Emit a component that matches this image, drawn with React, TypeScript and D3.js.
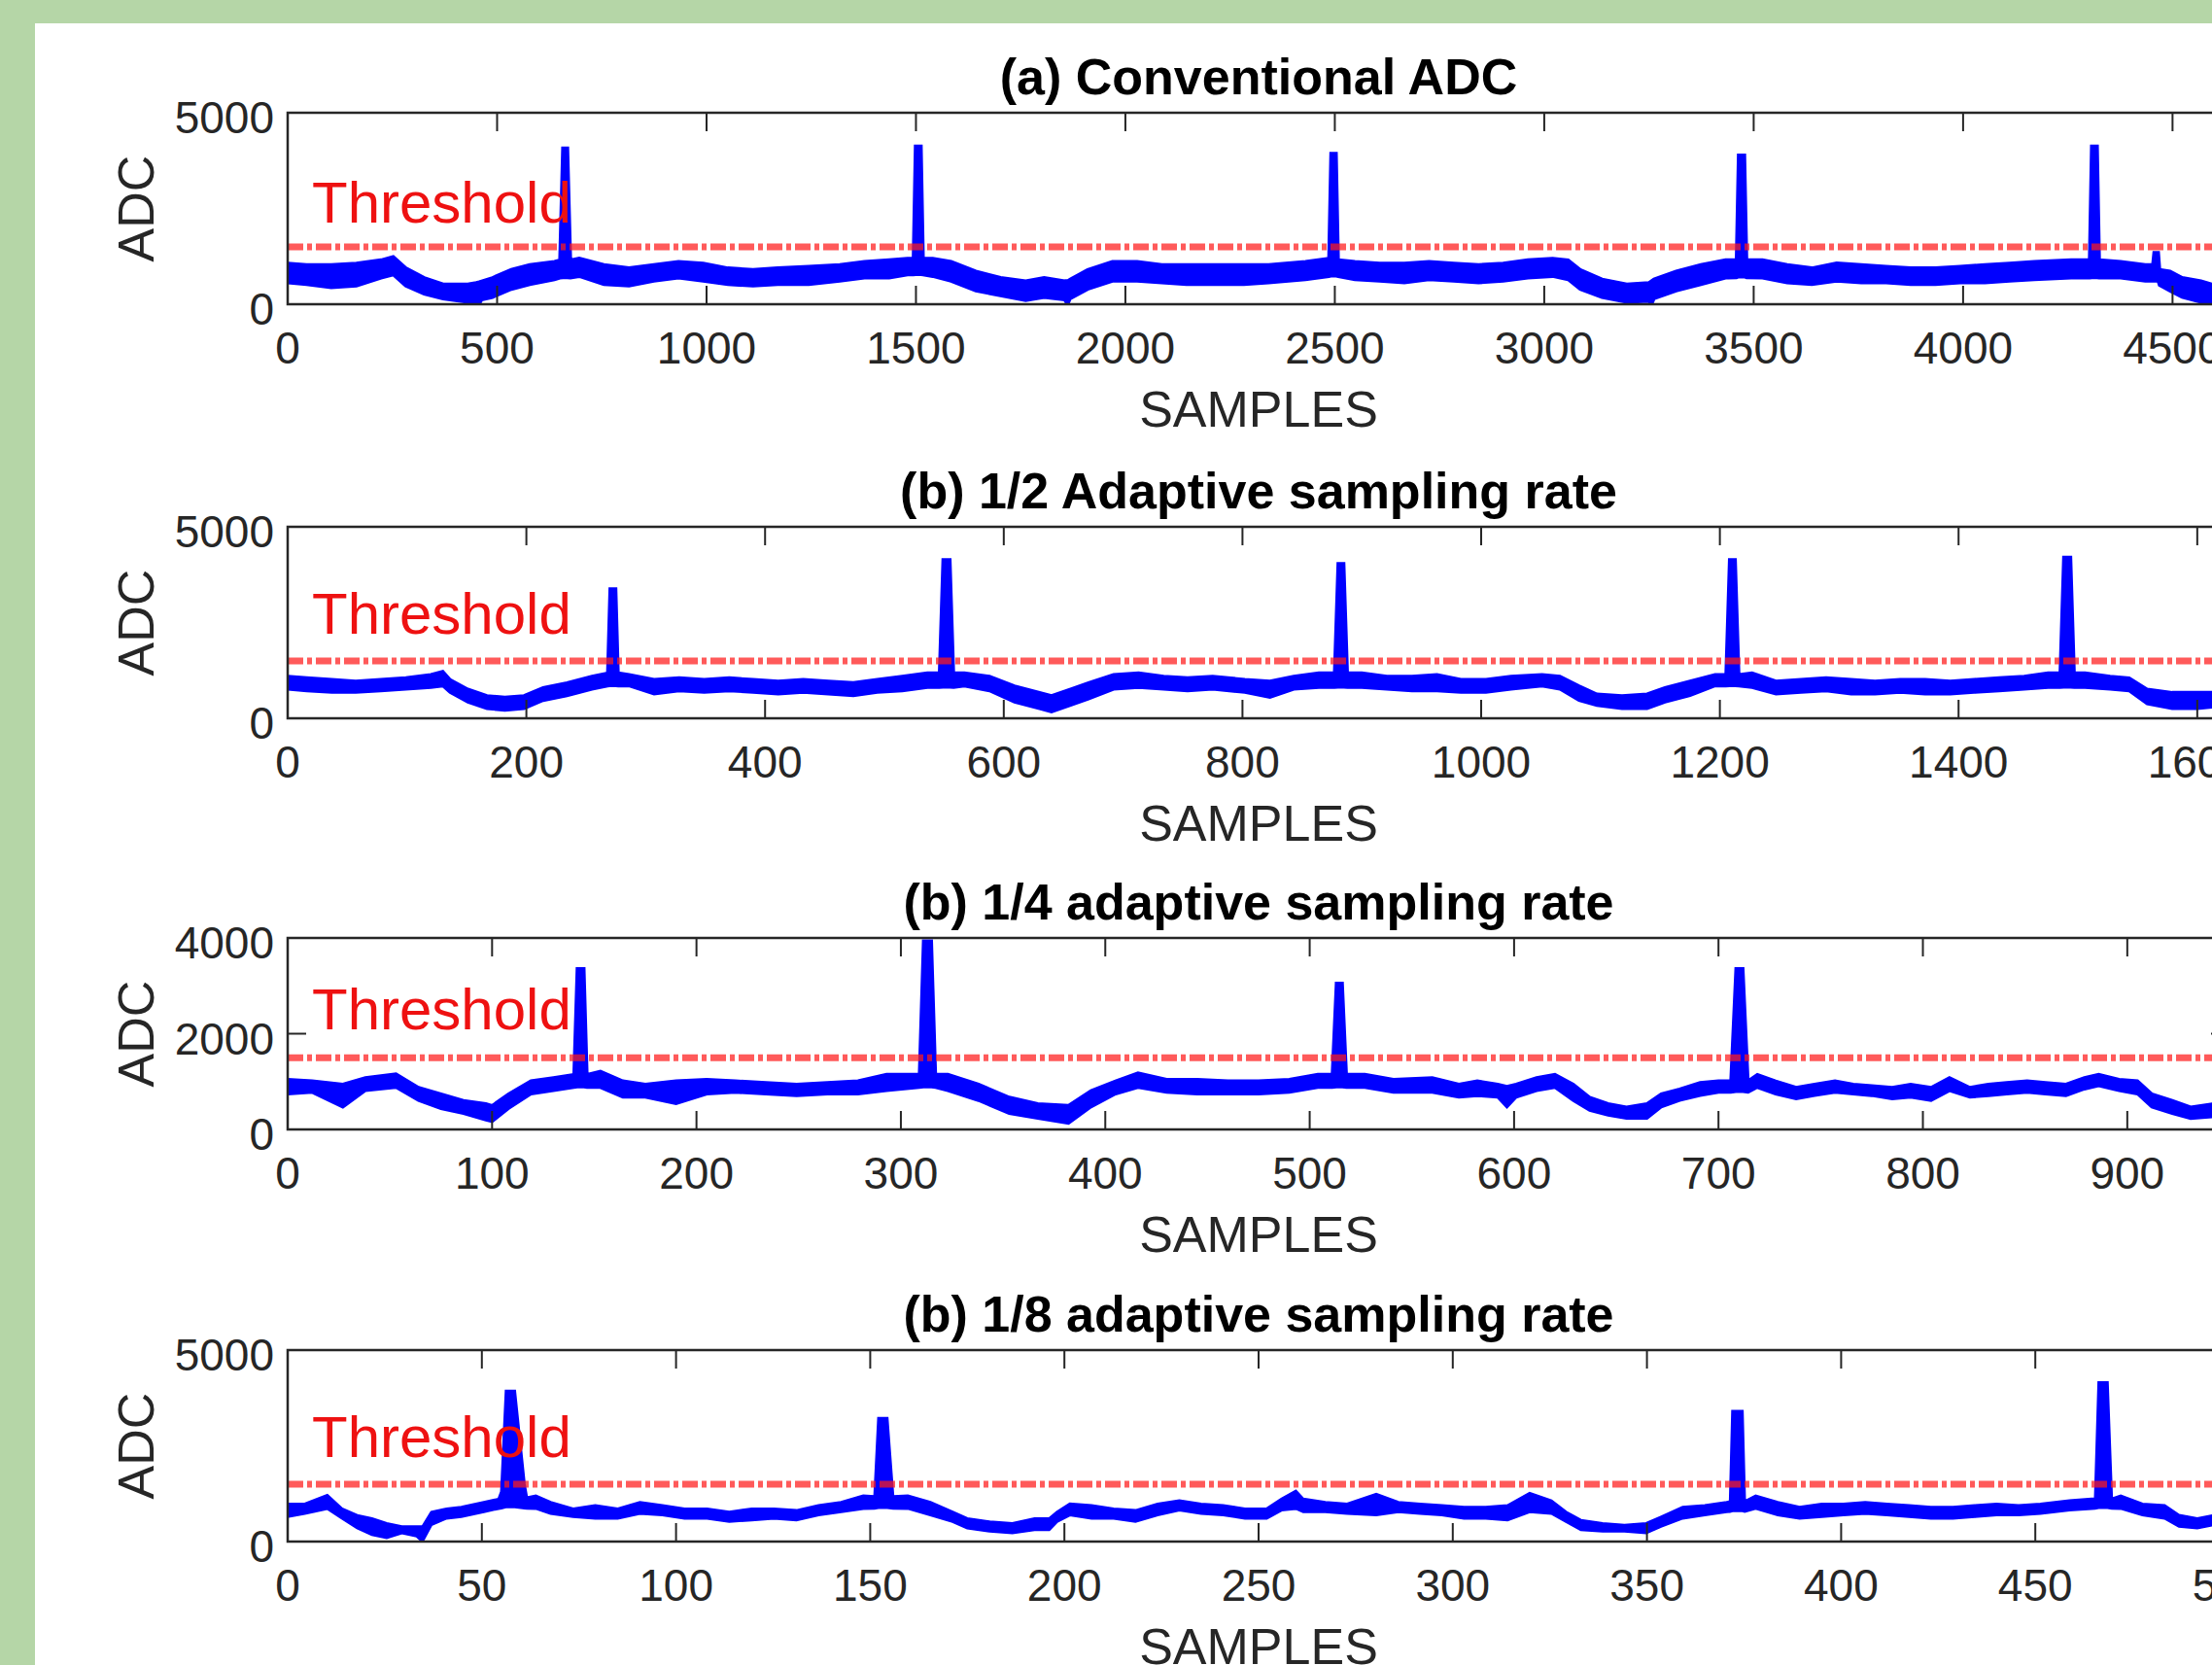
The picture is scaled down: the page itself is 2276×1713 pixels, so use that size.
import React from 'react';
import * as d3 from 'd3';

// Each row: [sample index, lower edge of the plotted trace, upper edge of the plotted trace] (ADC counts)
type Row = [number, number, number];

const conventionalTrace: Row[] = [
  [0, 564, 1069], [45, 522, 1027], [104, 438, 1027], [164, 480, 1069], [223, 690, 1153], [252, 774, 1237],
  [282, 480, 943], [326, 269, 690], [371, 143, 522], [430, 59, 522], [450, 60, 560], [457, 0, 580], [463, 120, 600],
  [489, 185, 690], [534, 395, 901], [578, 522, 1027], [637, 648, 1111], [650, 690, 1150], [657, 700, 4074],
  [668, 700, 4074], [675, 690, 1150], [696, 732, 1195], [755, 522, 1027], [815, 480, 943], [874, 606, 1027],
  [933, 690, 1111], [992, 606, 1069], [1051, 522, 943], [1111, 480, 901], [1170, 522, 943], [1244, 522, 985],
  [1318, 606, 1027], [1377, 690, 1111], [1436, 690, 1153], [1480, 774, 1195], [1494, 774, 1195], [1499, 780, 4124],
  [1512, 780, 4124], [1517, 774, 1195], [1540, 732, 1195], [1584, 606, 1111], [1643, 353, 858], [1702, 227, 690],
  [1762, 101, 606], [1806, 185, 690], [1855, 120, 606], [1862, 0, 606], [1868, 150, 650], [1910, 395, 901],
  [1969, 606, 1111], [2028, 606, 1111], [2087, 564, 1027], [2146, 522, 1027], [2205, 522, 1027], [2283, 522, 1027],
  [2342, 564, 1027], [2430, 648, 1111], [2486, 732, 1195], [2491, 740, 3931], [2503, 740, 3931], [2508, 732, 1153],
  [2548, 648, 1111], [2607, 606, 1069], [2666, 564, 1069], [2725, 648, 1111], [2784, 606, 1069], [2843, 564, 1027],
  [2902, 606, 1069], [2961, 690, 1153], [3020, 732, 1195], [3057, 648, 1153], [3086, 395, 901], [3138, 185, 648],
  [3197, 59, 522], [3250, 80, 560], [3256, 0, 606], [3262, 150, 650], [3315, 353, 858], [3374, 522, 1027],
  [3433, 690, 1153], [3459, 700, 1153], [3464, 720, 3889], [3478, 720, 3889], [3483, 700, 1153], [3521, 690, 1153],
  [3580, 564, 1027], [3639, 522, 943], [3698, 606, 1069], [3757, 564, 1027], [3816, 564, 985], [3875, 522, 943],
  [3934, 522, 943], [3993, 564, 985], [4052, 564, 1027], [4111, 606, 1069], [4170, 648, 1111], [4258, 690, 1153],
  [4302, 690, 1153], [4307, 700, 4124], [4320, 700, 4124], [4325, 690, 1153], [4376, 690, 1111], [4435, 606, 1027],
  [4453, 606, 1027], [4456, 606, 1347], [4466, 606, 1347], [4469, 500, 900], [4494, 353, 858], [4523, 185, 690],
  [4568, 59, 606], [4594, 59, 522], [4636, 100, 500],
];

const halfRateTrace: Row[] = [
  [0, 761, 1099], [16, 719, 1057], [37, 676, 1015], [57, 676, 973], [78, 719, 1015], [99, 761, 1057],
  [120, 803, 1142], [130, 846, 1226], [136, 676, 1015], [151, 423, 761], [167, 253, 592], [182, 211, 550],
  [198, 253, 592], [214, 465, 803], [234, 592, 930], [255, 761, 1099], [268, 846, 1184], [270, 850, 3384],
  [275, 850, 3384], [277, 846, 1184], [286, 846, 1142], [307, 634, 1015], [328, 719, 1057], [349, 676, 1015],
  [370, 719, 1057], [390, 676, 1015], [411, 634, 973], [432, 676, 1015], [453, 634, 973], [474, 592, 930],
  [494, 676, 1015], [515, 719, 1099], [536, 803, 1184], [546, 803, 1184], [549, 810, 4145], [555, 810, 4145],
  [558, 803, 1184], [567, 846, 1184], [588, 719, 1099], [609, 423, 846], [630, 253, 676], [640, 169, 592],
  [656, 338, 761], [671, 507, 930], [692, 761, 1142], [713, 803, 1184], [734, 761, 1099], [754, 719, 1057],
  [775, 761, 1099], [802, 676, 1015], [823, 550, 973], [843, 761, 1099], [864, 803, 1184], [877, 803, 1184],
  [880, 810, 4043], [885, 810, 4043], [888, 803, 1184], [900, 803, 1184], [921, 761, 1099], [942, 719, 1099],
  [963, 719, 1142], [983, 676, 1015], [1004, 676, 1015], [1025, 761, 1099], [1051, 846, 1142], [1066, 761, 1099],
  [1082, 465, 846], [1097, 338, 634], [1118, 253, 592], [1139, 253, 634], [1154, 423, 803], [1175, 592, 973],
  [1196, 846, 1142], [1205, 846, 1142], [1208, 850, 4145], [1213, 850, 4145], [1216, 846, 1142], [1227, 803, 1184],
  [1247, 634, 973], [1268, 676, 1015], [1289, 719, 1057], [1310, 634, 1015], [1330, 634, 973], [1351, 676, 1015],
  [1372, 634, 1015], [1393, 634, 973], [1413, 676, 1015], [1434, 719, 1057], [1455, 761, 1099], [1475, 803, 1184],
  [1485, 803, 1184], [1488, 810, 4204], [1494, 810, 4204], [1497, 803, 1184], [1506, 803, 1184], [1527, 761, 1099],
  [1543, 719, 1057], [1558, 380, 761], [1579, 253, 676], [1600, 253, 676], [1614, 295, 676], [1627, 300, 680],
];

const quarterRateTrace: Row[] = [
  [0, 742, 1048], [12, 776, 1014], [27, 469, 946], [38, 810, 1082], [53, 878, 1163], [64, 605, 878],
  [75, 435, 742], [86, 333, 605], [97, 197, 537], [100, 163, 500], [108, 435, 742], [119, 742, 1014],
  [130, 810, 1082], [140, 878, 1150], [141.6, 890, 3361], [145, 890, 3361], [146.5, 878, 1150], [153, 878, 1218],
  [164, 674, 1014], [175, 674, 946], [190, 537, 1014], [205, 742, 1048], [219, 776, 1014], [234, 742, 980],
  [249, 708, 946], [264, 742, 980], [279, 742, 1014], [293, 810, 1150], [309, 878, 1150], [311, 890, 3939],
  [315, 890, 3939], [317, 878, 1150], [323, 810, 1150], [338, 605, 946], [353, 333, 674], [367, 231, 537],
  [382, 129, 503], [393, 469, 810], [405, 742, 1014], [416, 878, 1184], [430, 776, 1048], [445, 742, 1048],
  [460, 742, 1014], [475, 742, 1014], [490, 776, 1048], [504, 878, 1150], [511, 878, 1150], [513, 890, 3055],
  [516, 890, 3055], [518, 878, 1150], [527, 878, 1150], [541, 776, 1048], [560, 776, 1082], [573, 674, 946],
  [582, 708, 1014], [592, 674, 946], [596.5, 469, 900], [601, 674, 946], [611, 810, 1082], [620, 878, 1150],
  [629, 606, 946], [637, 401, 674], [646, 299, 538], [655, 231, 469], [665, 231, 538], [672, 469, 742],
  [681, 606, 844], [691, 708, 980], [700, 776, 1014], [706, 776, 1014], [708.5, 790, 3361], [712, 790, 3361],
  [714.5, 776, 1014], [719, 878, 1150], [728, 742, 1014], [738, 640, 878], [747, 708, 946], [757, 776, 1014],
  [766, 742, 946], [775, 708, 912], [785, 640, 878], [794, 674, 946], [804, 606, 878], [813, 810, 1082],
  [823, 674, 878], [832, 708, 946], [841, 742, 980], [851, 776, 1014], [860, 742, 980], [870, 708, 946],
  [879, 844, 1082], [886, 912, 1150], [896, 810, 1048], [905, 742, 1014], [912, 469, 742], [922, 333, 606],
  [931, 231, 469], [942, 265, 538], [950, 280, 560],
];

const eighthRateTrace: Row[] = [
  [0, 646, 986], [4.4, 731, 986], [10.2, 859, 1216], [14, 604, 859], [17.9, 349, 689], [21.7, 179, 604],
  [25.5, 94, 476], [29.4, 221, 391], [33.2, 136, 391], [34.7, 0, 391], [37, 434, 774], [40.9, 604, 859],
  [44.7, 646, 901], [50.5, 774, 1029], [54.3, 859, 1114], [55, 870, 1300], [56.2, 900, 3937], [58.5, 900, 3937],
  [61, 870, 1500], [61.6, 860, 1150], [63.9, 859, 1199], [67.7, 731, 1029], [73.5, 646, 859], [79.2, 604, 944],
  [85, 604, 859], [90.7, 731, 1029], [96.5, 689, 944], [102.2, 604, 859], [108, 604, 859], [113.7, 519, 774],
  [119.5, 561, 859], [125.2, 604, 859], [131, 561, 816], [136.7, 689, 944], [142.5, 774, 1029], [148.2, 859, 1199],
  [151.1, 860, 1180], [152.1, 880, 3223], [154.4, 880, 3223], [155.9, 860, 1180], [159.7, 859, 1199],
  [165.5, 689, 1029], [171.2, 519, 774], [175, 349, 604], [180.8, 264, 519], [186.6, 221, 476], [192.3, 306, 604],
  [196.1, 306, 604], [198.1, 519, 774], [201.4, 689, 986], [207, 604, 944], [212.7, 604, 859], [218.3, 519, 816],
  [224, 689, 986], [229.6, 816, 1071], [235.2, 731, 986], [240.9, 689, 944], [246.5, 604, 859], [252.1, 604, 859],
  [255.9, 816, 1114], [259.6, 859, 1326], [261.5, 774, 1114], [267.2, 774, 1029], [272.8, 731, 986],
  [280.3, 689, 1241], [286, 774, 1029], [291.6, 731, 986], [297.2, 689, 944], [302.9, 604, 901], [308.5, 604, 901],
  [314.1, 561, 944], [319.8, 774, 1267], [325.4, 731, 1071], [329.2, 519, 774], [333, 306, 561], [338.6, 264, 476],
  [344.2, 264, 434], [349.8, 221, 476], [353.6, 391, 646], [359.2, 604, 901], [364.9, 689, 944], [370.5, 774, 1029],
  [371.4, 780, 1050], [372, 800, 3410], [374.6, 800, 3410], [375.2, 780, 1050], [378, 859, 1199], [383.7, 689, 1029],
  [389.3, 604, 901], [395, 646, 986], [400.6, 689, 986], [406.2, 731, 1029], [411.8, 689, 986], [417.5, 646, 944],
  [423.1, 604, 901], [428.8, 604, 901], [434.4, 646, 944], [440, 689, 986], [445.7, 689, 944], [451.3, 731, 986],
  [458.8, 816, 1071], [464.5, 859, 1114], [465.4, 860, 1120], [466.3, 880, 4158], [468.6, 880, 4158],
  [469.7, 860, 1120], [472, 859, 1199], [477.6, 689, 986], [483.3, 604, 944], [487, 391, 689], [491.7, 349, 604],
  [496, 434, 689], [500, 420, 680],
];

const panelTitles = [
  '(a) Conventional ADC',
  '(b) 1/2 Adaptive sampling rate',
  '(b) 1/4 adaptive sampling rate',
  '(b) 1/8 adaptive sampling rate',
];
const sampleCounts = [4636, 1627, 950, 500];
const adcMax = [5000, 5000, 4000, 5000];
const xTickValues = [
  [0, 500, 1000, 1500, 2000, 2500, 3000, 3500, 4000, 4500],
  [0, 200, 400, 600, 800, 1000, 1200, 1400, 1600],
  [0, 100, 200, 300, 400, 500, 600, 700, 800, 900],
  [0, 50, 100, 150, 200, 250, 300, 350, 400, 450, 500],
];
const yTickValues = [[0, 5000], [0, 5000], [0, 2000, 4000], [0, 5000]];
const thresholds = [1500, 1500, 1500, 1500];
const thresholdLabelLevel = [2120, 2210, 2100, 2220];
const xLabel = 'SAMPLES';
const yLabel = 'ADC';
const thresholdLabel = 'Threshold';

const traces = [conventionalTrace, halfRateTrace, quarterRateTrace, eighthRateTrace];

// layout
const W = 2276;
const H = 1713;
const AX_L = 296;
const AX_R = 2294;
const AX_TOPS = [116, 542, 965, 1389];
const AX_H = 197;
const TICK = 19;
const AXIS_COLOR = '#262626';
const FONT = "'Liberation Sans', Arial, Helvetica, sans-serif";
const TRACE_OUTLINE = [3.5, 3, 3, 2.5];

function Panel({ i }: { i: number }) {
  const top = AX_TOPS[i];
  const bottom = top + AX_H;
  const x = d3.scaleLinear().domain([0, sampleCounts[i]]).range([AX_L, AX_R]);
  const y = d3.scaleLinear().domain([0, adcMax[i]]).range([bottom, top]);
  const area = d3
    .area<Row>()
    .x((d) => x(d[0]))
    .y0((d) => y(d[1]))
    .y1((d) => y(d[2]));
  const ty = y(thresholds[i]);
  const cx = (AX_L + AX_R) / 2;
  const clipId = `clip-panel-${i}`;
  return (
    <g>
      <defs>
        <clipPath id={clipId}>
          <rect x={AX_L} y={top} width={AX_R - AX_L} height={AX_H} />
        </clipPath>
      </defs>
      <g clipPath={`url(#${clipId})`}>
        <path
          d={area(traces[i]) || ''}
          fill="#0000ff"
          stroke="#0000ff"
          strokeWidth={TRACE_OUTLINE[i]}
          strokeLinejoin="miter"
        />
        <line
          x1={AX_L}
          x2={AX_R}
          y1={ty}
          y2={ty}
          stroke="#ff1a1a"
          strokeOpacity={0.72}
          strokeWidth={7}
          strokeDasharray="16 4 5 4"
        />
      </g>
      <rect
        x={AX_L}
        y={top}
        width={AX_R - AX_L}
        height={AX_H}
        fill="none"
        stroke={AXIS_COLOR}
        strokeWidth={2.5}
      />
      {xTickValues[i].map((v) => (
        <g key={`xt${v}`}>
          <line x1={x(v)} x2={x(v)} y1={bottom} y2={bottom - TICK} stroke={AXIS_COLOR} strokeWidth={2} />
          <line x1={x(v)} x2={x(v)} y1={top} y2={top + TICK} stroke={AXIS_COLOR} strokeWidth={2} />
          <text
            x={x(v)}
            y={bottom + 61}
            textAnchor="middle"
            fontSize={46}
            fill={AXIS_COLOR}
            fontFamily={FONT}
          >
            {v}
          </text>
        </g>
      ))}
      {yTickValues[i].map((v) => (
        <g key={`yt${v}`}>
          <line x1={AX_L} x2={AX_L + TICK} y1={y(v)} y2={y(v)} stroke={AXIS_COLOR} strokeWidth={2} />
          <line x1={AX_R} x2={AX_R - TICK} y1={y(v)} y2={y(v)} stroke={AXIS_COLOR} strokeWidth={2} />
          <text
            x={AX_L - 14}
            y={y(v) + 21}
            textAnchor="end"
            fontSize={46}
            fill={AXIS_COLOR}
            fontFamily={FONT}
          >
            {v}
          </text>
        </g>
      ))}
      <text
        x={cx}
        y={top - 19}
        textAnchor="middle"
        fontSize={52}
        fontWeight="bold"
        fill="#000"
        fontFamily={FONT}
      >
        {panelTitles[i]}
      </text>
      <text x={cx} y={bottom + 126} textAnchor="middle" fontSize={52} fill={AXIS_COLOR} fontFamily={FONT}>
        {xLabel}
      </text>
      <text
        transform={`translate(158, ${(top + bottom) / 2}) rotate(-90)`}
        textAnchor="middle"
        fontSize={52}
        fill={AXIS_COLOR}
        fontFamily={FONT}
      >
        {yLabel}
      </text>
      <text x={AX_L + 25} y={y(thresholdLabelLevel[i])} fontSize={60} fill="#ee1111" fontFamily={FONT}>
        {thresholdLabel}
      </text>
    </g>
  );
}

export default function App() {
  return (
    <svg
      width={W}
      height={H}
      viewBox={`0 0 ${W} ${H}`}
      style={{ position: 'absolute', left: 0, top: 0, display: 'block' }}
    >
      <rect x={0} y={0} width={W} height={H} fill="#b5d6a7" />
      <rect x={36} y={24} width={W - 36} height={H - 24} fill="#ffffff" />
      {traces.map((_, i) => (
        <Panel key={i} i={i} />
      ))}
    </svg>
  );
}
